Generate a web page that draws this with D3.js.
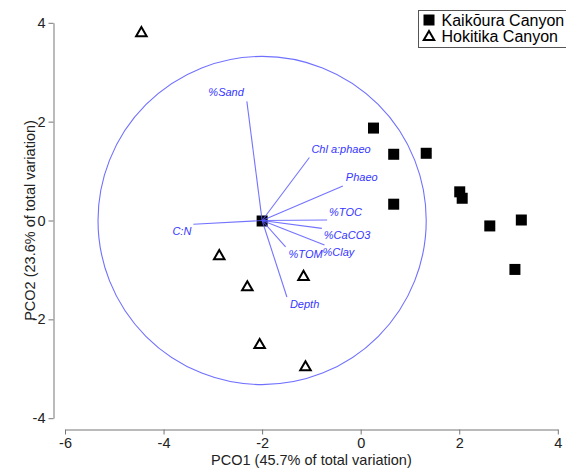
<!DOCTYPE html>
<html>
<head>
<meta charset="utf-8">
<script src="https://cdn.jsdelivr.net/npm/d3@7"></script>
<style>
  html, body { margin: 0; padding: 0; background: #fff; }
  svg { display: block; font-family: "Liberation Sans", Arial, sans-serif; }
</style>
</head>
<body>
<svg id="chart" width="566" height="473"></svg>
<script>
// Kaikōura Canyon samples (PCO1, PCO2)
const kaikouraX = [0.26, 0.67, 1.33, 2.01, 2.06, 0.67, 2.62, 3.26, 3.13, -2.00];
const kaikouraY = [1.87, 1.34, 1.36, 0.58, 0.45, 0.33, -0.11, 0.01, -0.99, -0.01];

// Hokitika Canyon samples (PCO1, PCO2)
const hokitikaX = [-4.45, -2.87, -2.30, -1.16, -2.05, -1.12];
const hokitikaY = [3.81, -0.70, -1.33, -1.12, -2.50, -2.95];

// Environmental variable correlations with the PCO axes
const vectorNames = ["%Sand", "Chl a:phaeo", "Phaeo", "%TOC", "%CaCO3", "%Clay", "%TOM", "Depth", "C:N"];
const vectorX = [-0.093, 0.288, 0.492, 0.396, 0.364, 0.380, 0.143, 0.151, -0.419];
const vectorY = [0.724, 0.383, 0.210, 0.003, -0.048, -0.149, -0.160, -0.465, -0.023];

// Correlation circle: centre and radius in PCO units
const circleCentre = [-2, 0];
const circleRadius = 3.33;

const xTicks = [-6, -4, -2, 0, 2, 4];
const yTicks = [-4, -2, 0, 2, 4];
const legendLabels = ["Kaikōura Canyon", "Hokitika Canyon"];
const xTitle = "PCO1 (45.7% of total variation)";
const yTitle = "PCO2 (23.6% of total variation)";

// label nudges relative to the vector tips: [dx, dy, anchor]
const labelNudge = [
  [-3, -5, "end"], [2, -4, "start"], [3, -5, "start"], [2, -4, "start"],
  [2, 11, "start"], [-2, 11, "start"], [3, 11, "start"], [3, 11, "start"], [-2, 11, "end"]
];

const svg = d3.select("#chart");
const x = d3.scaleLinear().domain([-6, 4]).range([65, 557.8]);
const y = d3.scaleLinear().domain([-4, 4]).range([418.2, 22.8]);

const axisColor = "#777";
const textColor = "#222";
const fontSize = "14.5px";
const plainNumber = d => String(d);   // ASCII hyphen for negatives

// x axis, detached below the plot
const xAxisG = svg.append("g")
  .attr("transform", "translate(0,429.5)")
  .call(d3.axisBottom(x).tickValues(xTicks).tickSize(5).tickSizeOuter(0).tickPadding(3)
    .tickFormat(plainNumber));
// y axis, detached to the left
const yAxisG = svg.append("g")
  .attr("transform", "translate(53.5,0)")
  .call(d3.axisLeft(y).tickValues(yTicks).tickSize(5).tickSizeOuter(0).tickPadding(3)
    .tickFormat(plainNumber));

[xAxisG, yAxisG].forEach(g => {
  g.select(".domain").attr("stroke", axisColor);
  g.selectAll(".tick line").attr("stroke", axisColor);
  g.selectAll(".tick text").attr("fill", textColor)
    .style("font-size", fontSize).style("font-family", "'Liberation Sans', Arial, sans-serif");
});

// axis titles
svg.append("text")
  .attr("x", x(-1)).attr("y", 465)
  .attr("text-anchor", "middle")
  .attr("fill", textColor).style("font-size", fontSize)
  .text(xTitle);

svg.append("text")
  .attr("transform", `translate(30,${y(0)}) rotate(-90)`)
  .attr("text-anchor", "middle")
  .attr("dominant-baseline", "central")
  .attr("fill", textColor).style("font-size", fontSize)
  .text(yTitle);

// correlation circle
const cx = x(circleCentre[0]), cy = y(circleCentre[1]);
const rPix = x(circleCentre[0] + circleRadius) - cx;
svg.append("circle")
  .attr("cx", cx).attr("cy", cy).attr("r", rPix)
  .attr("fill", "none").attr("stroke", "#7070ff").attr("stroke-width", 1.1);

// Kaikōura squares
const sq = 11;
svg.append("g").selectAll("rect")
  .data(kaikouraX.map((v, i) => [v, kaikouraY[i]]))
  .join("rect")
  .attr("x", d => x(d[0]) - sq / 2).attr("y", d => y(d[1]) - sq / 2)
  .attr("width", sq).attr("height", sq)
  .attr("fill", "#000");

// Hokitika triangles
const tri = d3.symbol().type(d3.symbolTriangle).size(48);
svg.append("g").selectAll("path")
  .data(hokitikaX.map((v, i) => [v, hokitikaY[i]]))
  .join("path")
  .attr("d", tri)
  .attr("transform", d => `translate(${x(d[0])},${y(d[1]) + 1})`)
  .attr("fill", "#fff").attr("stroke", "#000").attr("stroke-width", 2);

// vectors
const tips = vectorNames.map((n, i) => ({
  name: n,
  px: x(circleCentre[0] + vectorX[i] * circleRadius),
  py: y(circleCentre[1] + vectorY[i] * circleRadius),
  nudge: labelNudge[i]
}));

svg.append("g").selectAll("line")
  .data(tips).join("line")
  .attr("x1", cx).attr("y1", cy)
  .attr("x2", d => d.px).attr("y2", d => d.py)
  .attr("stroke", "#5a5aff").attr("stroke-opacity", 0.85).attr("stroke-width", 1.1);

svg.append("g").selectAll("text")
  .data(tips).join("text")
  .attr("x", d => d.px + d.nudge[0])
  .attr("y", d => d.py + d.nudge[1])
  .attr("text-anchor", d => d.nudge[2])
  .attr("fill", "#3535ff")
  .style("font-size", "11px").style("font-style", "italic")
  .text(d => d.name);

// legend
const legend = svg.append("g");
legend.append("rect")
  .attr("x", 418.5).attr("y", 10.5).attr("width", 160).attr("height", 37)
  .attr("fill", "#fff").attr("stroke", "#555").attr("stroke-width", 1);
legend.append("rect")
  .attr("x", 429 - 5.5).attr("y", 20 - 5.5).attr("width", 11).attr("height", 11)
  .attr("fill", "#000");
legend.append("path")
  .attr("d", tri)
  .attr("transform", "translate(429,37)")
  .attr("fill", "#fff").attr("stroke", "#000").attr("stroke-width", 2);
legend.selectAll("text.lab")
  .data(legendLabels).join("text")
  .attr("class", "lab")
  .attr("x", 441.5).attr("y", (d, i) => 20 + i * 16)
  .attr("dominant-baseline", "central")
  .attr("fill", "#000").style("font-size", "16px")
  .text(d => d);
</script>
</body>
</html>
